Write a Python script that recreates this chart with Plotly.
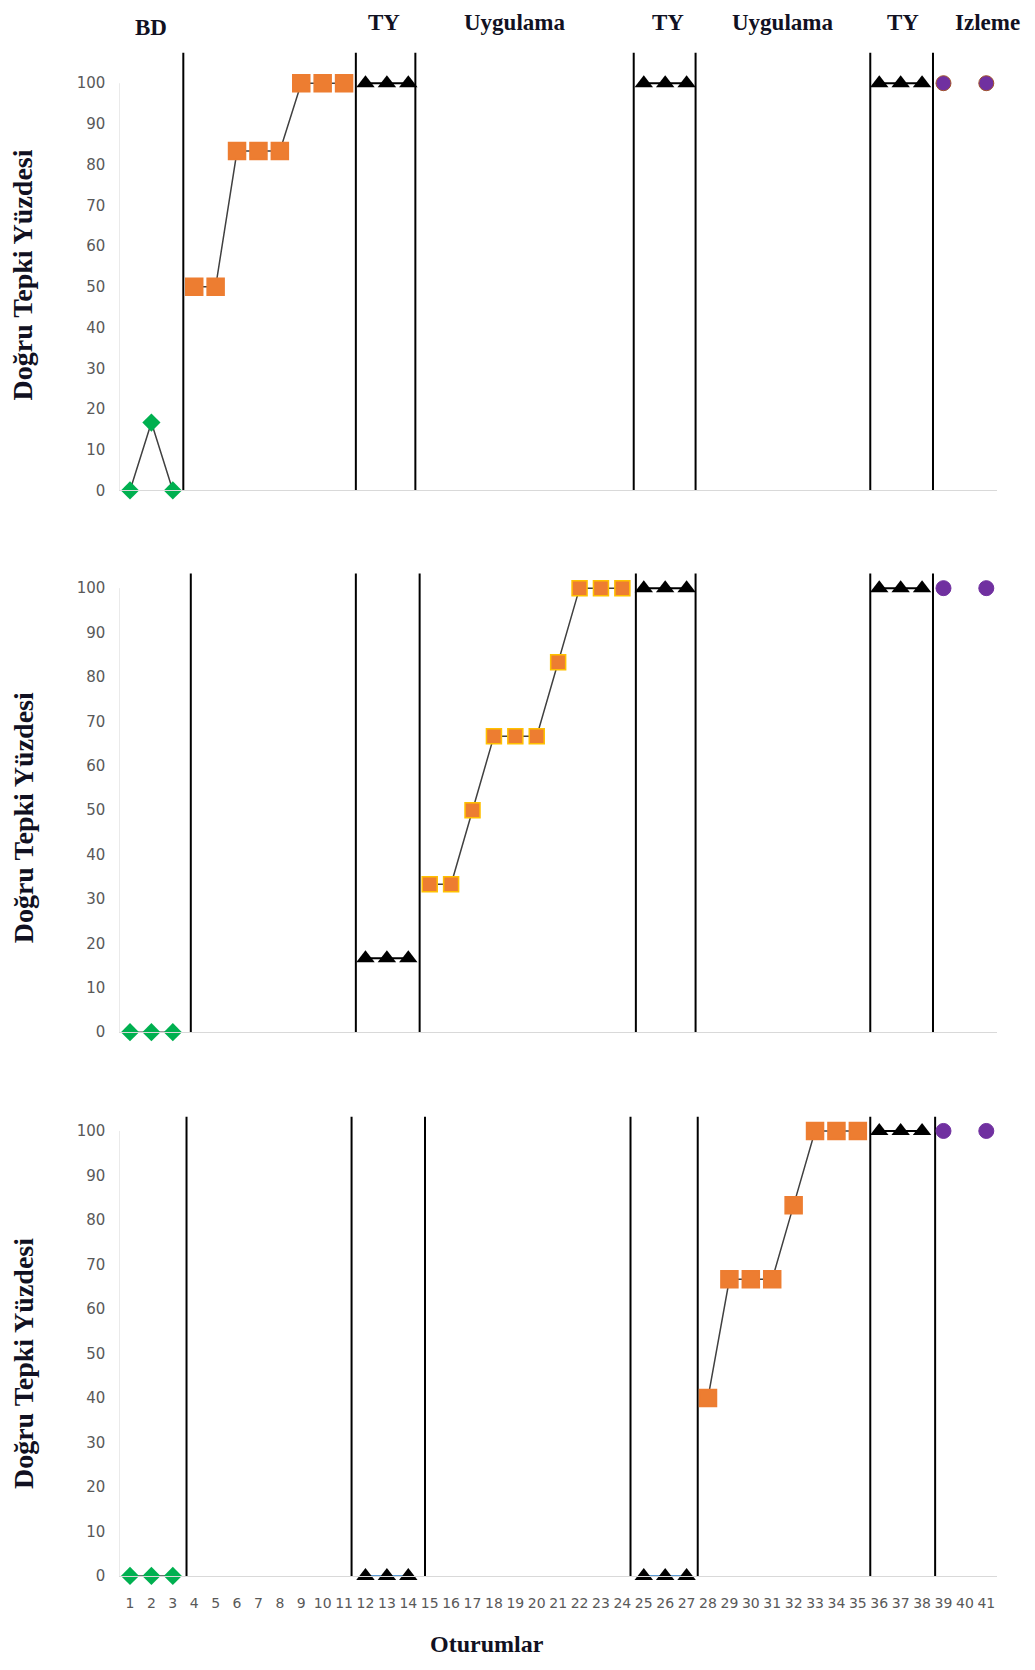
import plotly.graph_objects as go

# ---------------- data ----------------
sessions = list(range(1, 42))
tick_labels = [str(s) for s in sessions]
y_ticks = list(range(0, 101, 10))

phase_titles = ["BD", "TY", "Uygulama", "TY", "Uygulama", "TY", "Izleme"]

# Panel 1
p1_bd_x = [1, 2, 3]
p1_bd_y = [0, 16.67, 0]
p1_int_x = [4, 5, 6, 7, 8, 9, 10, 11]
p1_int_y = [50, 50, 83.33, 83.33, 83.33, 100, 100, 100]
p1_ty_groups = [([12, 13, 14], [100, 100, 100]),
                ([25, 26, 27], [100, 100, 100]),
                ([36, 37, 38], [100, 100, 100])]
p1_fu_x = [39, 41]
p1_fu_y = [100, 100]

# Panel 2
p2_bd_x = [1, 2, 3]
p2_bd_y = [0, 0, 0]
p2_int_x = [15, 16, 17, 18, 19, 20, 21, 22, 23, 24]
p2_int_y = [33.33, 33.33, 50, 66.67, 66.67, 66.67, 83.33, 100, 100, 100]
p2_ty_groups = [([12, 13, 14], [16.67, 16.67, 16.67]),
                ([25, 26, 27], [100, 100, 100]),
                ([36, 37, 38], [100, 100, 100])]
p2_fu_x = [39, 41]
p2_fu_y = [100, 100]

# Panel 3
p3_bd_x = [1, 2, 3]
p3_bd_y = [0, 0, 0]
p3_int_x = [28, 29, 30, 31, 32, 33, 34, 35]
p3_int_y = [40, 66.67, 66.67, 66.67, 83.33, 100, 100, 100]
p3_ty_groups = [([12, 13, 14], [0, 0, 0]),
                ([25, 26, 27], [0, 0, 0]),
                ([36, 37, 38], [100, 100, 100])]
p3_fu_x = [39, 41]
p3_fu_y = [100, 100]

# phase-change line positions (session units), per panel
p1_lines = [3.49, 11.55, 14.33, 24.53, 27.42, 35.58, 38.51]
p2_lines = [3.84, 11.55, 14.53, 24.63, 27.42, 35.58, 38.51]
p3_lines = [3.64, 11.35, 14.78, 24.38, 27.52, 35.58, 38.61]

# ---------------- figure ----------------
OFF = 8
W, H = 1019, 1654
fig = go.Figure()

ORANGE = "#ED7D31"
GREEN = "#00B050"
PURPLE = "#7030A0"
LINE = "#404040"

panels = [
    dict(bd=(p1_bd_x, p1_bd_y), it=(p1_int_x, p1_int_y), ty=p1_ty_groups,
         fu=(p1_fu_x, p1_fu_y), lines=p1_lines, top=108, ltop=107.5,
         sq_size=17, sq_line=ORANGE, fu_line="#A0522D"),
    dict(bd=(p2_bd_x, p2_bd_y), it=(p2_int_x, p2_int_y), ty=p2_ty_groups,
         fu=(p2_fu_x, p2_fu_y), lines=p2_lines, top=104, ltop=103.3,
         sq_size=15, sq_line="#FFC000", fu_line=PURPLE),
    dict(bd=(p3_bd_x, p3_bd_y), it=(p3_int_x, p3_int_y), ty=p3_ty_groups,
         fu=(p3_fu_x, p3_fu_y), lines=p3_lines, top=104, ltop=103.2,
         sq_size=17, sq_line=ORANGE, fu_line=PURPLE),
]

# target pixel extents in the screenshot (top, bottom)
pix = [(49, 489), (569, 1031), (1112, 1575)]


def px_x(v):
    return (v - OFF) / W


def px_y(v):
    v2 = (v + 1.6) / 0.995
    return 1 - (v2 - OFF) / H


xdom = [px_x(119.3), px_x(997)]

for i, p in enumerate(panels):
    k = "" if i == 0 else str(i + 1)
    xa, ya = "x" + k, "y" + k
    fig.add_trace(go.Scatter(x=p["bd"][0], y=p["bd"][1], xaxis=xa, yaxis=ya,
                             mode="lines+markers", line=dict(color=LINE, width=1.5),
                             marker=dict(symbol="diamond", size=14, color=GREEN),
                             showlegend=False, cliponaxis=False))
    fig.add_trace(go.Scatter(x=p["it"][0], y=p["it"][1], xaxis=xa, yaxis=ya,
                             mode="lines+markers", line=dict(color=LINE, width=1.5),
                             marker=dict(symbol="square", size=p["sq_size"], color=ORANGE,
                                         line=dict(color=p["sq_line"], width=1.5)),
                             showlegend=False, cliponaxis=False))
    for j, (tx, tyv) in enumerate(p["ty"]):
        lc = "#5B9BD5" if (i == 2 and j < 2) else "black"
        fig.add_trace(go.Scatter(x=tx, y=tyv, xaxis=xa, yaxis=ya,
                                 mode="lines+markers", line=dict(color=lc, width=2),
                                 marker=dict(symbol="triangle-up", size=16, color="black"),
                                 showlegend=False, cliponaxis=False))
    fig.add_trace(go.Scatter(x=p["fu"][0], y=p["fu"][1], xaxis=xa, yaxis=ya,
                             mode="markers",
                             marker=dict(symbol="circle", size=15, color=PURPLE,
                                         line=dict(color=p["fu_line"], width=1)),
                             showlegend=False, cliponaxis=False))
    for lx in p["lines"]:
        fig.add_shape(type="line", xref=xa, yref=ya, x0=lx, x1=lx, y0=0, y1=p["ltop"],
                      line=dict(color="black", width=2), layer="below")
    fig.add_shape(type="line", xref=xa, yref=ya, x0=0.5, x1=0.5, y0=0, y1=100,
                  line=dict(color="#D9D9D9", width=1), layer="below")

    t, b = pix[i]
    ydom = [px_y(b), px_y(t)]
    fig.layout["xaxis" + k] = dict(
        domain=xdom, range=[0.5, 41.5], anchor=ya, showgrid=False, zeroline=False,
        showline=True, linecolor="#D9D9D9", linewidth=1,
        tickmode="array", tickvals=sessions, ticktext=tick_labels,
        showticklabels=(i == 2), tickangle=0, ticks="",
        tickfont=dict(family="DejaVu Sans", size=14, color="#595959"),
        ticklabelstandoff=14,
    )
    fig.layout["yaxis" + k] = dict(
        domain=ydom, range=[0, p["top"]], anchor=xa, showgrid=False, zeroline=False,
        showline=False, tickmode="array", tickvals=y_ticks, ticks="",
        tickfont=dict(family="DejaVu Sans", size=15, color="#595959"),
        ticklabelstandoff=13,
    )

# phase titles
title_x = [151, 384, 514, 668, 782, 903, 987]
title_shift = [-5, 0, 0, 0, 0, 0, 0]
for txt, px, sh in zip(phase_titles, title_x, title_shift):
    fig.add_annotation(text="<b>" + txt + "</b>", x=px_x(px), y=1, yshift=sh,
                       xref="paper", yref="paper",
                       showarrow=False, xanchor="center", yanchor="top",
                       font=dict(family="Liberation Serif", size=23, color="#111122"))

# y titles
for cy in [274, 817, 1363]:
    fig.add_annotation(text="<b>Doğru Tepki Yüzdesi</b>", x=px_x(23), y=px_y(cy),
                       xref="paper", yref="paper", showarrow=False, textangle=-90,
                       xanchor="center", yanchor="middle",
                       font=dict(family="Liberation Serif", size=28, color="#111122"))

fig.add_annotation(text="<b>Oturumlar</b>", x=px_x(487), y=0, yshift=-6,
                   xref="paper", yref="paper",
                   showarrow=False, xanchor="center", yanchor="bottom",
                   font=dict(family="Liberation Serif", size=24, color="#111122"))

fig.update_layout(width=W, height=H, margin=dict(l=0, r=0, t=0, b=0),
                  paper_bgcolor="white", plot_bgcolor="white")

fig.write_html("out.html")
